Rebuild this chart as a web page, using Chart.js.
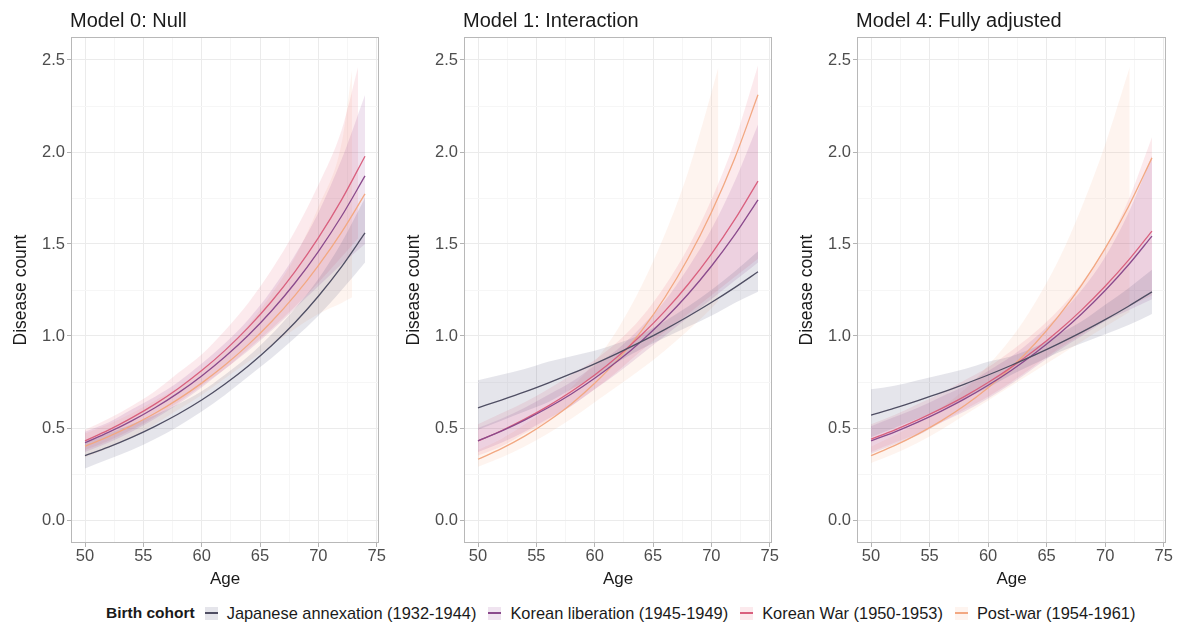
<!DOCTYPE html>
<html><head><meta charset="utf-8">
<script src="https://cdn.jsdelivr.net/npm/chart.js@4.4.1/dist/chart.umd.min.js"></script>
<style>
body{margin:0;background:#fff;width:1180px;height:625px;overflow:hidden;position:relative;font-family:"Liberation Sans",Arial,sans-serif;}
canvas{position:absolute;top:0;}
#legend{position:absolute;top:603px;left:106px;display:flex;align-items:center;font-size:16.4px;color:#1a1a1a;white-space:nowrap;height:20px;}
#legend b{margin-right:10px;font-size:15.5px;}
.key{display:inline-block;width:13px;height:13px;position:relative;margin-right:9px;}
.key i{position:absolute;left:0;right:0;top:5.5px;height:2px;}
.lab{margin-right:12px;}
</style></head><body>
<canvas id="c0" width="393" height="597" style="left:0px"></canvas>
<canvas id="c1" width="393" height="597" style="left:393px"></canvas>
<canvas id="c2" width="394" height="597" style="left:786px"></canvas>
<div id="legend"></div>
<script>
// ---------- data ----------
const cohorts = ["Japanese annexation (1932-1944)","Korean liberation (1945-1949)","Korean War (1950-1953)","Post-war (1954-1961)"];
const panelTitles = ["Model 0: Null","Model 1: Interaction","Model 4: Fully adjusted"];
const ages = [50,52,54,56,58,60,62,64,66,68,70,72,74];
const xTicks = [50,55,60,65,70,75];
const yTicks = [0,0.5,1,1.5,2,2.5];

// Model 0: Null
const m0_jap    = [0.350,0.396,0.449,0.509,0.576,0.652,0.739,0.837,0.948,1.073,1.216,1.377,1.560];
const m0_jap_lo = [0.28,0.33,0.38,0.44,0.51,0.59,0.68,0.78,0.88,0.99,1.11,1.25,1.40];
const m0_jap_hi = [0.43,0.47,0.52,0.57,0.63,0.70,0.79,0.89,1.01,1.15,1.31,1.51,1.75];
const m0_lib    = [0.420,0.476,0.539,0.610,0.691,0.783,0.887,1.004,1.137,1.288,1.459,1.652,1.870];
const m0_lib_lo = [0.37,0.42,0.48,0.55,0.63,0.72,0.82,0.92,1.03,1.15,1.27,1.39,1.50];
const m0_lib_hi = [0.48,0.53,0.60,0.67,0.75,0.85,0.96,1.09,1.25,1.44,1.67,1.96,2.31];
const m0_war    = [0.430,0.488,0.555,0.630,0.715,0.812,0.922,1.047,1.189,1.350,1.533,1.741,1.977];
const m0_war_ages = [50,52,54,56,58,60,62,64,66,68,70,72,73.4];
const m0_war_lo = [0.38,0.43,0.49,0.56,0.64,0.73,0.82,0.93,1.04,1.16,1.29,1.43,1.53];
const m0_war_hi = [0.49,0.55,0.62,0.70,0.80,0.90,1.03,1.18,1.36,1.57,1.82,2.12,2.46];
const m0_pw     = [0.400,0.453,0.513,0.580,0.657,0.744,0.842,0.953,1.079,1.221,1.383,1.565,1.772];
const m0_pw_ages = [50,52,54,56,58,60,62,64,66,68,70,72,72.9];
const m0_pw_lo  = [0.34,0.39,0.45,0.52,0.60,0.68,0.77,0.86,0.95,1.04,1.12,1.18,1.21];
const m0_pw_hi  = [0.47,0.52,0.58,0.65,0.72,0.81,0.92,1.06,1.23,1.43,1.70,2.05,2.45];

// Model 1: Interaction
const m1_jap    = [0.610,0.652,0.696,0.744,0.795,0.849,0.907,0.969,1.035,1.106,1.182,1.263,1.349];
const m1_jap_lo = [0.49,0.54,0.59,0.64,0.71,0.78,0.86,0.93,0.99,1.05,1.11,1.18,1.24];
const m1_jap_hi = [0.76,0.79,0.82,0.86,0.89,0.92,0.96,1.01,1.08,1.16,1.25,1.35,1.46];
const m1_lib    = [0.430,0.483,0.543,0.610,0.685,0.770,0.865,0.972,1.092,1.227,1.379,1.549,1.740];
const m1_lib_lo = [0.37,0.42,0.48,0.55,0.62,0.71,0.80,0.90,1.00,1.10,1.20,1.30,1.40];
const m1_lib_hi = [0.50,0.55,0.61,0.68,0.75,0.84,0.93,1.05,1.19,1.37,1.58,1.84,2.15];
const m1_war    = [0.430,0.485,0.548,0.619,0.698,0.788,0.890,1.005,1.134,1.280,1.445,1.632,1.842];
const m1_war_lo = [0.35,0.40,0.47,0.54,0.62,0.71,0.81,0.92,1.02,1.12,1.22,1.32,1.42];
const m1_war_hi = [0.52,0.58,0.64,0.71,0.79,0.87,0.97,1.10,1.27,1.48,1.74,2.06,2.47];
const m1_pw     = [0.330,0.388,0.456,0.537,0.631,0.743,0.873,1.027,1.208,1.421,1.671,1.965,2.311];
const m1_pw_ages = [50,52,54,56,58,60,62,64,66,68,70,70.6];
const m1_pw_lo  = [0.29,0.34,0.40,0.47,0.55,0.64,0.73,0.82,0.92,1.03,1.15,1.19];
const m1_pw_hi  = [0.38,0.44,0.52,0.61,0.72,0.86,1.04,1.27,1.55,1.89,2.32,2.46];

// Model 4: Fully adjusted
const m4_jap    = [0.570,0.608,0.649,0.692,0.739,0.788,0.841,0.897,0.957,1.021,1.089,1.162,1.240];
const m4_jap_lo = [0.45,0.50,0.55,0.60,0.66,0.72,0.79,0.85,0.91,0.96,1.01,1.06,1.12];
const m4_jap_hi = [0.71,0.73,0.76,0.79,0.82,0.86,0.89,0.94,1.01,1.08,1.17,1.26,1.36];
const m4_lib    = [0.430,0.478,0.532,0.592,0.658,0.732,0.814,0.906,1.008,1.121,1.247,1.387,1.543];
const m4_lib_lo = [0.36,0.41,0.46,0.53,0.59,0.66,0.74,0.83,0.92,1.00,1.08,1.14,1.20];
const m4_lib_hi = [0.51,0.56,0.61,0.67,0.73,0.81,0.89,0.99,1.11,1.25,1.43,1.67,1.98];
const m4_war    = [0.440,0.489,0.544,0.605,0.672,0.747,0.831,0.924,1.027,1.142,1.270,1.412,1.570];
const m4_war_lo = [0.37,0.42,0.47,0.53,0.60,0.67,0.75,0.84,0.93,1.01,1.09,1.16,1.22];
const m4_war_hi = [0.52,0.57,0.63,0.69,0.76,0.83,0.92,1.02,1.14,1.29,1.48,1.74,2.08];
const m4_pw     = [0.350,0.404,0.467,0.539,0.622,0.719,0.830,0.958,1.107,1.278,1.476,1.704,1.968];
const m4_pw_ages = [50,52,54,56,58,60,62,64,66,68,70,72.1];
const m4_pw_lo  = [0.31,0.36,0.42,0.49,0.57,0.65,0.73,0.81,0.89,0.97,1.05,1.13];
const m4_pw_hi  = [0.40,0.46,0.53,0.61,0.71,0.84,0.99,1.18,1.41,1.70,2.04,2.46];

// ---------- styles ----------
const lineColors = ["#4f4e63","#8a4a8c","#d9607e","#f2a882"];
const bandColors = ["rgba(70,70,110,0.14)","rgba(140,50,140,0.13)","rgba(230,80,110,0.12)","rgba(250,165,125,0.12)"];

const panels = [
  [[m0_jap,ages,m0_jap_lo,m0_jap_hi],[m0_lib,ages,m0_lib_lo,m0_lib_hi],[m0_war,m0_war_ages,m0_war_lo,m0_war_hi],[m0_pw,m0_pw_ages,m0_pw_lo,m0_pw_hi]],
  [[m1_jap,ages,m1_jap_lo,m1_jap_hi],[m1_lib,ages,m1_lib_lo,m1_lib_hi],[m1_war,ages,m1_war_lo,m1_war_hi],[m1_pw,m1_pw_ages,m1_pw_lo,m1_pw_hi]],
  [[m4_jap,ages,m4_jap_lo,m4_jap_hi],[m4_lib,ages,m4_lib_lo,m4_lib_hi],[m4_war,ages,m4_war_lo,m4_war_hi],[m4_pw,m4_pw_ages,m4_pw_lo,m4_pw_hi]]
];

const pts = (xs, ys) => xs.map((x,i)=>({x:x,y:ys[i]}));
const FONT = '"Liberation Sans", Arial, sans-serif';

const framePlugin = {
  id:'frame',
  afterDraw(chart){
    const {ctx, chartArea:a} = chart;
    ctx.save();
    ctx.strokeStyle = '#b8b8b8'; ctx.lineWidth = 1;
    ctx.strokeRect(Math.round(a.left)+0.5, Math.round(a.top)+0.5, Math.round(a.right-a.left)-1, Math.round(a.bottom-a.top)-1);
    ctx.fillStyle = '#1a1a1a';
    ctx.font = '20px ' + FONT;
    ctx.textBaseline = 'middle'; ctx.textAlign = 'left';
    ctx.fillText(chart.options.plugins.frame.title, a.left - 1, 21);
    ctx.restore();
  }
};

function isMajor(v, step){ return Math.abs(v/step - Math.round(v/step)) < 1e-6; }

panels.forEach((series, p) => {
  const datasets = [];
  series.forEach((s, k) => {
    datasets.push({data: pts(s[1], s[2]), borderWidth:0, pointRadius:0, fill:false, order:1, cubicInterpolationMode:'monotone'});
    datasets.push({data: pts(s[1], s[3]), borderWidth:0, pointRadius:0, fill:'-1', backgroundColor: bandColors[k], order:1, cubicInterpolationMode:'monotone'});
  });
  series.forEach((s, k) => {
    datasets.push({label: cohorts[k], data: pts(ages, s[0]), borderColor: lineColors[k], borderWidth:1.3, pointRadius:0, fill:false, order:0, cubicInterpolationMode:'monotone'});
  });
  new Chart(document.getElementById('c'+p), {
    type:'line',
    data:{datasets},
    plugins:[framePlugin],
    options:{
      responsive:false, animation:false, devicePixelRatio:1,
      layout:{padding:{top:37,right:14,left:0,bottom:0}},
      plugins:{legend:{display:false}, tooltip:{enabled:false}, frame:{title: panelTitles[p]}},
      scales:{
        x:{type:'linear', min:48.8, max:75.2,
          afterBuildTicks: sc => { const t=[]; for(let v=50; v<=75; v+=2.5) t.push({value:v}); sc.ticks = t; },
          afterFit: sc => { sc.height = 54; },
          ticks:{autoSkip:false, maxRotation:0, color:'#4d4d4d', font:{size:16.5, family:FONT}, padding:0,
            callback: v => xTicks.includes(v) ? String(v) : ''},
          grid:{color: c => (c.tick && isMajor(c.tick.value,5)) ? '#ebebeb' : '#f6f6f6',
                tickColor: c => (c.tick && isMajor(c.tick.value,5)) ? '#b3b3b3' : 'rgba(0,0,0,0)',
                tickLength:4, lineWidth:1},
          border:{display:false},
          title:{display:true, text:'Age', color:'#1a1a1a', font:{size:17, family:FONT}, padding:{top:0,bottom:7}}
        },
        y:{type:'linear', min:-0.125, max:2.625,
          afterBuildTicks: sc => { const t=[]; for(let v=0; v<=2.5001; v+=0.25) t.push({value:Math.round(v*100)/100}); sc.ticks = t; },
          afterFit: sc => { sc.width = 71; },
          ticks:{autoSkip:false, color:'#4d4d4d', font:{size:16.5, family:FONT}, padding:2,
            callback: v => yTicks.includes(v) ? v.toFixed(1) : ''},
          grid:{color: c => (c.tick && isMajor(c.tick.value,0.5)) ? '#ebebeb' : '#f6f6f6',
                tickColor: c => (c.tick && isMajor(c.tick.value,0.5)) ? '#b3b3b3' : 'rgba(0,0,0,0)',
                tickLength:4, lineWidth:1},
          border:{display:false},
          title:{display:true, text:'Disease count', color:'#1a1a1a', font:{size:17.5, family:FONT}, padding:{top:11,bottom:0}}
        }
      }
    }
  });
});

// ---------- legend ----------
const leg = document.getElementById('legend');
let html = '<b>Birth cohort</b>';
cohorts.forEach((c,k) => {
  html += '<span class="key" style="background:'+bandColors[k]+'"><i style="background:'+lineColors[k]+'"></i></span><span class="lab">'+c+'</span>';
});
leg.innerHTML = html;
</script>
</body></html>
